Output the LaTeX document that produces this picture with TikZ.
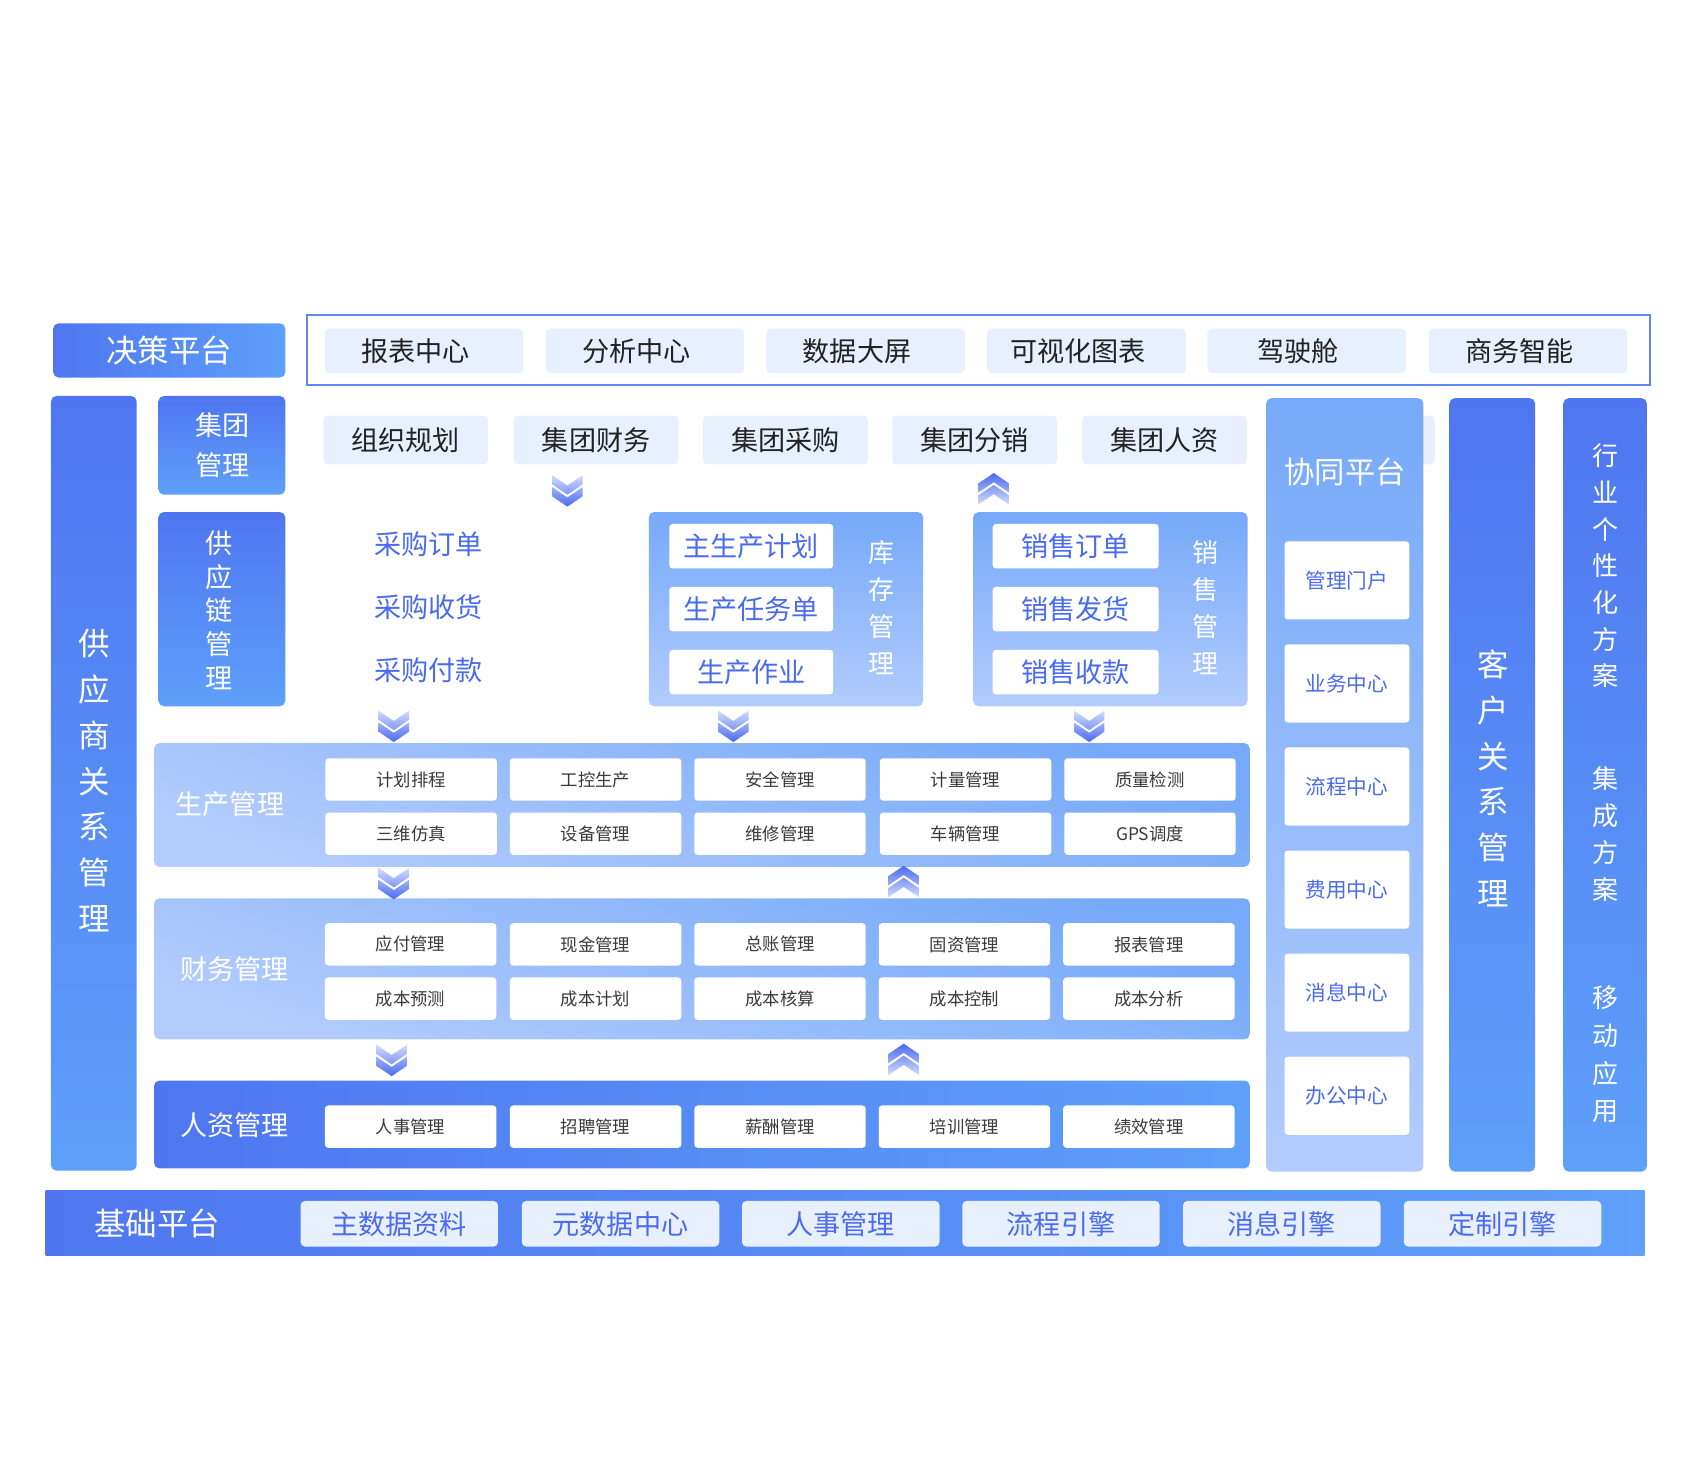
\documentclass[tikz,border=0pt]{standalone}
\usepackage{fontspec}
\setmainfont{Noto Sans CJK SC}
\definecolor{dA}{HTML}{4F76F0}
\definecolor{dB}{HTML}{5EA0FA}
\definecolor{lA}{HTML}{76A9F9}
\definecolor{lB}{HTML}{B2CCFC}
\definecolor{pillc}{HTML}{E8F0FE}
\definecolor{btxt}{HTML}{4A6AF0}
\definecolor{framec}{HTML}{5B88F5}
\definecolor{ktxt}{HTML}{222222}
\definecolor{gtxt}{HTML}{3A3A3A}
\definecolor{chev}{HTML}{4A6AF0}
\definecolor{chevl}{HTML}{D2DDFC}
\newcommand\fs[2]{\fontsize{#1}{#2}\selectfont}
\begin{document}
\begin{tikzpicture}[x=1pt,y=-1pt,
  every node/.style={inner sep=0pt,outer sep=0pt},
  darkv/.style={rounded corners=5pt,top color=dA,bottom color=dB},
  darkh/.style={rounded corners=5pt,left color=dA,right color=dB},
  lightv/.style={rounded corners=5pt,top color=lA,bottom color=lB},
  pill/.style={fill=pillc,rounded corners=4pt,text=ktxt,font=\fs{25}{25}},
  bpill/.style={fill=pillc,rounded corners=4pt,text=btxt,font=\fs{25}{25}},
  wbox/.style={fill=white,rounded corners=3pt,text=btxt,font=\fs{25}{25}},
  cell/.style={fill=white,rounded corners=3pt,minimum width=158pt,minimum height=39pt,text=gtxt,font=\fs{16}{16}},
  cbox/.style={fill=white,rounded corners=3pt,minimum width=115pt,minimum height=72pt,text=btxt,font=\fs{19}{19}},
  wt/.style={text=white,align=center},
  chevd/.pic={\shade[top color=chevl,bottom color=chev]
     (-14,0)--(0,9.5)--(14,0)--(14,8.5)--(0,18)--(-14,8.5)--cycle
     (-14,11)--(0,20.5)--(14,11)--(14,19.5)--(0,29)--(-14,19.5)--cycle;},
  chevu/.pic={\shade[top color=chev,bottom color=chevl]
     (-14,29)--(0,19.5)--(14,29)--(14,20.5)--(0,11)--(-14,20.5)--cycle
     (-14,18)--(0,8.5)--(14,18)--(14,9.5)--(0,0)--(-14,9.5)--cycle;}
]
\useasboundingbox (0,0) rectangle (1567,1364.3);

% ---------- decision platform ----------
\node[darkh,minimum width=214pt,minimum height=50pt,wt,font=\fs{29}{29}] (jc) at (156,323) {决策平台};
\node[draw=framec,line width=2pt,fill=white,minimum width=1238pt,minimum height=65pt] (frame) at (902,322.5) {};
\foreach \x/\t [count=\i] in {391/报表中心,594.5/分析中心,798/数据大屏,1001.5/可视化图表,1204.5/驾驶舱,1408.5/商务智能}{
  \node[pill,minimum width=183pt,minimum height=41pt] (top\i) at (\x,323.5) {};
  \node[text=ktxt,font=\fs{25}{25}] (topt\i) at ([xshift=-8pt]top\i.center) {\t};}

% ---------- left columns ----------
\node[darkv,minimum width=79pt,minimum height=714pt] (gys) at (86.5,722) {};
\node[wt,font=\fs{29}{42.2}] (gyst) at (87,719.5) {供\\应\\商\\关\\系\\管\\理};
\node[darkv,minimum width=117pt,minimum height=91pt] (jt) at (204.5,410.5) {};
\node[wt,font=\fs{25}{37}] (jtt) at (205,410.5) {集团\\管理};
\node[darkv,minimum width=117pt,minimum height=179pt] (gyl) at (204.5,561.5) {};
\node[wt,font=\fs{25}{31.2}] (gylt) at (202,562.5) {供\\应\\链\\管\\理};

% ---------- group row ----------
\node[pill,minimum width=153pt,minimum height=45pt] (g6) at (1246,405.5) {};
\foreach \x/\t [count=\i] in {374/组织规划,549.5/集团财务,724/集团采购,898.5/集团分销,1073.5/集团人资}
  \node[pill,minimum width=152pt,minimum height=45pt] (g\i) at (\x,405.5) {\t};

% ---------- right columns ----------
\node[lightv,minimum width=145pt,minimum height=713pt] (xt) at (1239.5,723.5) {};
\node[wt,font=\fs{28}{28}] (xtt) at (1240,435) {协同平台};
\foreach \y/\t [count=\i] in {535/管理门户,630/业务中心,725/流程中心,820/费用中心,915/消息中心,1010/办公中心}
  \node[cbox] (c\i) at (1241.5,\y) {\t};
\node[darkv,minimum width=79pt,minimum height=713pt] (kh) at (1375.5,723.5) {};
\node[wt,font=\fs{29}{42.2}] (kht) at (1376,717.5) {客\\户\\关\\系\\管\\理};
\node[darkv,minimum width=77pt,minimum height=713pt] (hy) at (1479.5,723.5) {};
\node[wt,font=\fs{24}{33.8}] (hyt1) at (1480,521.5) {行\\业\\个\\性\\化\\方\\案};
\node[wt,font=\fs{24}{34}] (hyt2) at (1480,769) {集\\成\\方\\案};
\node[wt,font=\fs{24}{34.7}] (hyt3) at (1480,972) {移\\动\\应\\用};

% ---------- purchasing ----------
\foreach \y/\t [count=\i] in {502/采购订单,560/采购收货,618/采购付款}
  \node[text=btxt,font=\fs{25}{25}] (cg\i) at (395,\y) {\t};

% ---------- inventory / production ----------
\node[lightv,minimum width=253pt,minimum height=179pt] (kc) at (724.5,561.5) {};
\foreach \y/\t [count=\i] in {503.5/主生产计划,561.5/生产任务单,619.5/生产作业}
  \node[wbox,minimum width=151pt,minimum height=41pt] (kc\i) at (692.5,\y) {\t};
\node[wt,font=\fs{24}{34.3}] (kct) at (813,560) {库\\存\\管\\理};

\node[lightv,minimum width=253pt,minimum height=179pt] (xs) at (1023.5,561.5) {};
\foreach \y/\t [count=\i] in {503.5/销售订单,561.5/销售发货,619.5/销售收款}
  \node[wbox,minimum width=153pt,minimum height=41pt] (xs\i) at (991.5,\y) {\t};
\node[wt,font=\fs{24}{34.3}] (xst) at (1111,560) {销\\售\\管\\理};

% ---------- production management ----------
\node[rounded corners=5pt,top color=lA,bottom color=lB,shading angle=-20,minimum width=1010pt,minimum height=114pt] (sc) at (647,742) {};
\node[wt,font=\fs{25}{25}] (sct) at (212,741) {生产管理};
\foreach \x/\a/\b [count=\i] in {379/计划排程/三维仿真,549/工控生产/设备管理,719/安全管理/维修管理,890/计量管理/车辆管理,1060/质量检测/GPS调度}{
  \node[cell] (sa\i) at (\x,718.5) {\a};
  \node[cell] (sb\i) at (\x,768.5) {\b};}

% ---------- finance ----------
\node[rounded corners=5pt,top color=lA,bottom color=lB,shading angle=-20,minimum width=1010pt,minimum height=130pt] (cw) at (647,893) {};
\node[wt,font=\fs{25}{25}] (cwt) at (216,893) {财务管理};
\foreach \x/\a/\b [count=\i] in {378.5/应付管理/成本预测,549/现金管理/成本计划,719/总账管理/成本核算,889/固资管理/成本控制,1059/报表管理/成本分析}{
  \node[cell] (fa\i) at (\x,870.5) {\a};
  \node[cell] (fb\i) at (\x,920.5) {\b};}

% ---------- HR ----------
\node[darkh,minimum width=1010pt,minimum height=81pt] (rz) at (647,1036.5) {};
\node[wt,font=\fs{25}{25}] (rzt) at (216,1037) {人资管理};
\foreach \x/\a [count=\i] in {378.5/人事管理,549/招聘管理,719/薪酬管理,889/培训管理,1059/绩效管理}
  \node[cell] (ha\i) at (\x,1038.5) {\a};

% ---------- base platform ----------
\node[left color=dA,right color=dB,minimum width=1474pt,minimum height=60pt] (jc2) at (779,1127) {};
\node[wt,font=\fs{29}{29}] (jct) at (145,1128) {基础平台};
\foreach \x/\t [count=\i] in {368/主数据资料,572/元数据中心,775/人事管理,978/流程引擎,1181.5/消息引擎,1385/定制引擎}
  \node[bpill,minimum width=182pt,minimum height=42pt] (b\i) at (\x,1128) {\t};

% ---------- chevrons ----------
\pic at (523,438) {chevd};
\pic at (916,436) {chevu};
\pic at (363,655) {chevd};
\pic at (676,655) {chevd};
\pic at (1004,655) {chevd};
\pic at (363,800) {chevd};
\pic at (833,798) {chevu};
\pic at (361,963) {chevd};
\pic at (833,962) {chevu};
\end{tikzpicture}
\end{document}
